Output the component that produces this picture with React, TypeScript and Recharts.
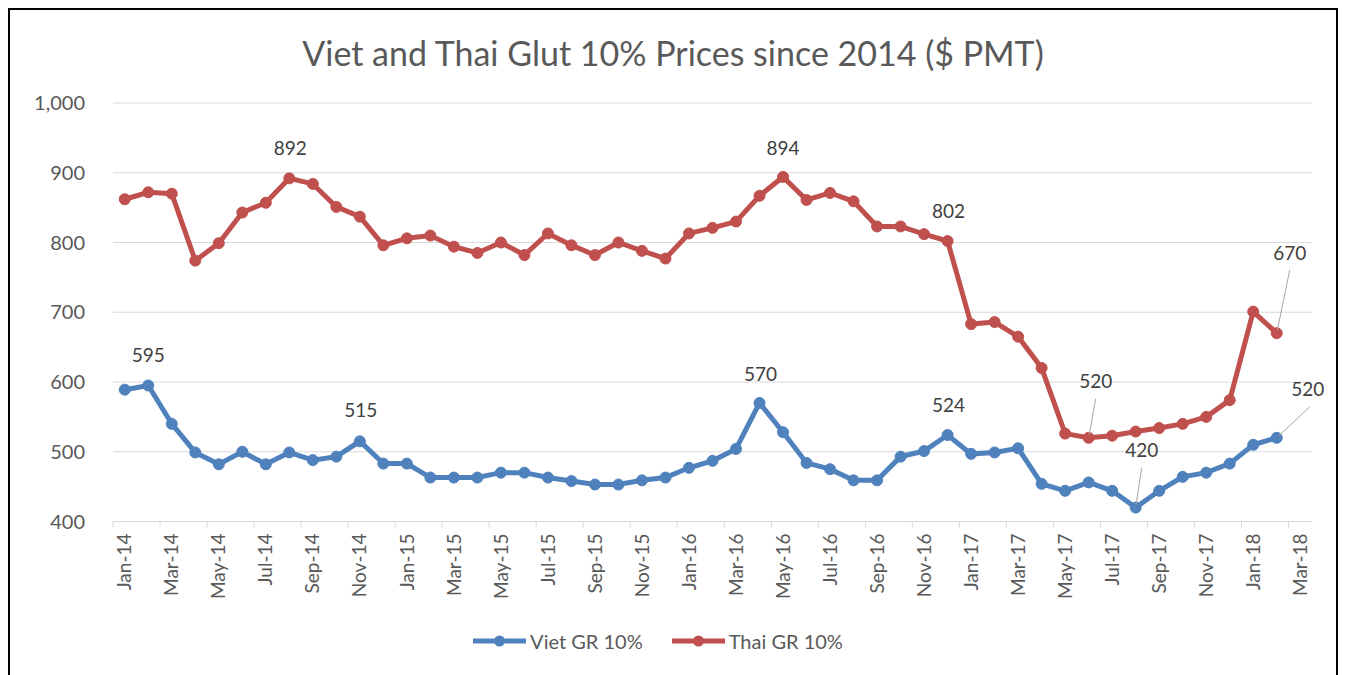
import React from "react";
import { LineChart, Line, XAxis, YAxis, CartesianGrid, Legend } from "recharts";

const months = [
  "Jan-14", "Feb-14", "Mar-14", "Apr-14", "May-14", "Jun-14", "Jul-14", "Aug-14", "Sep-14", "Oct-14", "Nov-14", "Dec-14",
  "Jan-15", "Feb-15", "Mar-15", "Apr-15", "May-15", "Jun-15", "Jul-15", "Aug-15", "Sep-15", "Oct-15", "Nov-15", "Dec-15",
  "Jan-16", "Feb-16", "Mar-16", "Apr-16", "May-16", "Jun-16", "Jul-16", "Aug-16", "Sep-16", "Oct-16", "Nov-16", "Dec-16",
  "Jan-17", "Feb-17", "Mar-17", "Apr-17", "May-17", "Jun-17", "Jul-17", "Aug-17", "Sep-17", "Oct-17", "Nov-17", "Dec-17",
  "Jan-18", "Feb-18", "Mar-18",
];

const vietGR10 = [
  589, 595, 540, 499, 482, 500, 482, 499, 488, 493, 515, 483,
  483, 463, 463, 463, 470, 470, 463, 458, 453, 453, 459, 463,
  477, 487, 504, 570, 528, 484, 475, 459, 459, 493, 501, 524,
  497, 499, 505, 454, 444, 456, 444, 420, 444, 464, 470, 483,
  510, 520,
];

const thaiGR10 = [
  862, 872, 870, 774, 799, 843, 857, 892, 884, 851, 837, 796,
  806, 810, 794, 785, 800, 782, 813, 796, 782, 800, 788, 777,
  813, 821, 830, 867, 894, 861, 871, 859, 823, 823, 812, 802,
  683, 686, 665, 620, 526, 520, 523, 529, 534, 540, 550, 574,
  701, 670,
];

const yTicks = [400, 500, 600, 700, 800, 900, 1000];

const seriesNames = { viet: "Viet GR 10%", thai: "Thai GR 10%" };
const colors = { viet: "#4F81BD", thai: "#C0504D" };

// which points carry a data label (index -> label offset / leader line)
const vietLabels: Record<number, { dx: number; dy: number; leader?: boolean }> = {
  1: { dx: 0, dy: -30 },
  10: { dx: 1, dy: -31 },
  27: { dx: 1, dy: -29 },
  35: { dx: 1, dy: -30 },
  43: { dx: 6, dy: -57, leader: true },
  49: { dx: 31, dy: -48, leader: true },
};
const thaiLabels: Record<number, { dx: number; dy: number; leader?: boolean }> = {
  7: { dx: 1, dy: -30 },
  28: { dx: 0, dy: -29 },
  35: { dx: 1, dy: -30 },
  41: { dx: 7, dy: -56, leader: true },
  49: { dx: 13, dy: -80, leader: true },
};

const data = months.map((m, i) => ({
  month: m,
  viet: i < vietGR10.length ? vietGR10[i] : null,
  thai: i < thaiGR10.length ? thaiGR10[i] : null,
}));

const W = 1326;
const H = 668;
const FONT = "Lato, 'Open Sans', sans-serif";
const TEXT = "#595959";
const GRID = "#d9d9d9";
const HALF_BAND = 1175.5 / 50 / 2;

const makeLabel = (cfg: Record<number, { dx: number; dy: number; leader?: boolean }>) => (props: any) => {
  const { x, y, index, value } = props;
  const c = cfg[index];
  if (!c || value == null) return null;
  const lx = x + c.dx;
  const ly = y + c.dy;
  let leader = null;
  if (c.leader) {
    const x1 = lx + (c.dx > 20 ? 2 : 0);
    const y1 = ly + 17;
    const vx = x - x1;
    const vy = y - y1;
    const len = Math.sqrt(vx * vx + vy * vy);
    const k = (len - 3) / len;
    leader = (
      <line x1={x1} y1={y1} x2={x1 + vx * k} y2={y1 + vy * k} stroke="#a6a6a6" strokeWidth={1} />
    );
  }
  return (
    <g key={`lbl-${index}`}>
      {leader}
      <text x={lx} y={ly} dy="0.35em" textAnchor="middle" fontSize={19} fill="#404040" fontFamily={FONT}>
        {value}
      </text>
    </g>
  );
};

const XTick = (props: any) => {
  const { x, y, payload } = props;
  const ty = y + 12;
  return (
    <g>
      <line x1={x - HALF_BAND} x2={x - HALF_BAND} y1={y} y2={y + 6} stroke={GRID} strokeWidth={1} />
      <text
        x={x}
        y={ty}
        dy="0.35em"
        textAnchor="end"
        transform={`rotate(-90 ${x} ${ty})`}
        fontSize={19}
        fill={TEXT}
        fontFamily={FONT}
      >
        {payload.value}
      </text>
    </g>
  );
};

const LegendContent = () => {
  const item = (key: "viet" | "thai") => (
    <div style={{ display: "flex", alignItems: "center", marginRight: key === "viet" ? 29 : 0 }}>
      <svg width={53} height={14} style={{ marginRight: 4 }}>
        <line x1={0} x2={53} y1={7} y2={7} stroke={colors[key]} strokeWidth={5} />
        <circle cx={26.5} cy={7} r={5.5} fill={colors[key]} />
      </svg>
      <span style={{ fontSize: 20, color: TEXT, fontFamily: FONT }}>{seriesNames[key]}</span>
    </div>
  );
  return (
    <div
      style={{
        width: W,
        height: 24,
        display: "flex",
        justifyContent: "center",
        alignItems: "center",
        paddingRight: 30,
        boxSizing: "border-box",
      }}
    >
      {item("viet")}
      {item("thai")}
    </div>
  );
};

export default function App() {
  return (
    <div
      style={{
        position: "relative",
        width: W,
        height: H,
        border: "2px solid #000",
        background: "#fff",
        fontFamily: FONT,
      }}
    >
      <div
        style={{
          position: "absolute",
          top: 23,
          left: 0,
          width: W,
          textAlign: "center",
          fontSize: 34,
          lineHeight: "40px",
          color: TEXT,
          fontFamily: FONT,
        }}
      >
        Viet and Thai Glut 10% Prices since 2014 ($ PMT)
      </div>
      <LineChart width={W} height={H} data={data} margin={{ top: 93, right: 24, left: 0, bottom: 25 }}>
        <CartesianGrid vertical={false} stroke={GRID} strokeWidth={1} />
        <XAxis
          dataKey="month"
          interval={1}
          padding={{ left: HALF_BAND, right: HALF_BAND }}
          height={107.5}
          tickLine={false}
          tickSize={0}
          tickMargin={0}
          axisLine={{ stroke: GRID, strokeWidth: 1 }}
          tick={<XTick />}
        />
        <YAxis
          domain={[400, 1000]}
          ticks={yTicks}
          width={103}
          axisLine={false}
          tickLine={false}
          tickSize={0}
          tickMargin={28}
          tickFormatter={(v: number) => v.toLocaleString("en-US")}
          tick={{ fontSize: 20, fill: TEXT, fontFamily: FONT }}
        />
        <Legend
          verticalAlign="bottom"
          content={<LegendContent />}
          wrapperStyle={{ left: 0, width: W, bottom: 25 }}
        />
        <Line
          dataKey="viet"
          name={seriesNames.viet}
          stroke={colors.viet}
          strokeWidth={5}
          dot={{ r: 5.5, fill: colors.viet, stroke: colors.viet, strokeWidth: 1 }}
          activeDot={false}
          isAnimationActive={false}
          label={makeLabel(vietLabels)}
        />
        <Line
          dataKey="thai"
          name={seriesNames.thai}
          stroke={colors.thai}
          strokeWidth={5}
          dot={{ r: 5.5, fill: colors.thai, stroke: colors.thai, strokeWidth: 1 }}
          activeDot={false}
          isAnimationActive={false}
          label={makeLabel(thaiLabels)}
        />
      </LineChart>
    </div>
  );
}
